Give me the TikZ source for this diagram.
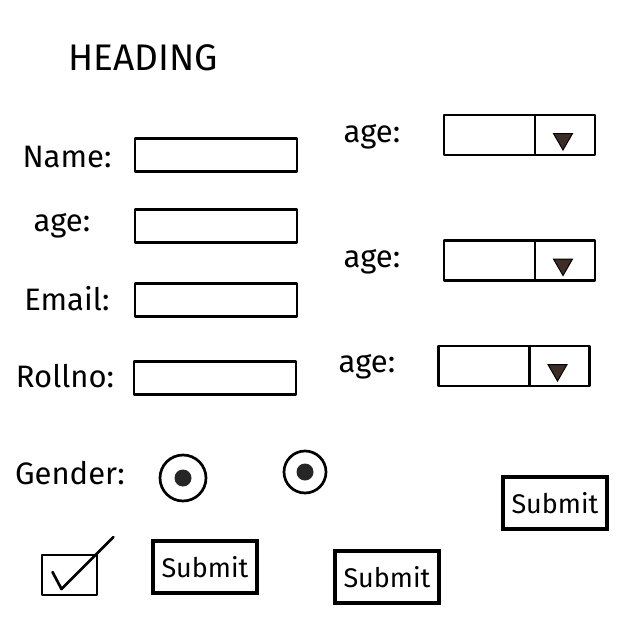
\documentclass[tikz,border=0pt]{standalone}
\usepackage{fontspec}
\setmainfont{Fira Sans}
\usetikzlibrary{calc,positioning,shapes.geometric}
\definecolor{arrowbrown}{HTML}{3E2C27}
\tikzset{
	sketch/.style={line width=2.7pt, line join=round},
	fieldlabel/.style={font=\fontsize{31}{33}\selectfont, inner sep=0pt},
	textbox/.style={draw, sketch, minimum width=162pt, minimum height=33pt, inner sep=0pt, outer sep=0pt},
	ddfield/.style={draw, sketch, minimum width=91pt, minimum height=40pt, inner sep=0pt, outer sep=0pt},
	ddbtn/.style={draw, sketch, minimum width=60pt, minimum height=40pt, inner sep=0pt, outer sep=0pt},
	ddarrow/.style={regular polygon, regular polygon sides=3, shape border rotate=180, fill=arrowbrown, draw=black, line width=1pt, minimum size=22pt, inner sep=0pt},
	radio/.style={circle, draw, line width=2.7pt, inner sep=0pt},
	radiodot/.style={circle, fill=black!85, minimum size=17pt, inner sep=0pt},
	submitbtn/.style={draw, line width=3.2pt, minimum width=104pt, minimum height=52pt, inner sep=0pt, font=\fontsize{27}{29}\selectfont},
	checkbox/.style={draw, sketch, minimum width=55pt, minimum height=40pt, inner sep=0pt}
}

\begin{document}
\begin{tikzpicture}[x=1pt, y=-1pt]
		%%%%% START %%%%%
		\useasboundingbox (0, 0) rectangle (640, 640);
		
		\node[font=\fontsize{37}{39}\selectfont, inner sep=0pt] (heading) at (143, 58) {HEADING};
		
		%% left column: text fields
		\node[fieldlabel] (namelbl) at (67, 157) {Name:};
		\node[textbox] (namebox) at (216, 155) {};
		
		\node[fieldlabel] (agelbl) at (62, 226) {age:};
		\node[textbox] (agebox) at (216, 226) {};
		
		\node[fieldlabel] (emaillbl) at (67, 299) {Email:};
		\node[textbox] (emailbox) at (216, 300) {};
		
		\node[fieldlabel] (rolllbl) at (65, 376) {Rollno:};
		\node[textbox] (rollbox) at (215, 378) {};
		
		%% right column: drop downs
		\node[fieldlabel] (ddlblA) at (372, 137) {age:};
		\node[ddfield] (ddA) at (489.5, 135) {};
		\node[ddbtn, right=0pt of ddA] (ddAbtn) {};
		\node[ddarrow] (ddAarr) at ($(ddAbtn.center)+(-2, 4)$) {};
		
		\node[fieldlabel] (ddlblB) at (372, 262) {age:};
		\node[ddfield] (ddB) at (489.5, 260.5) {};
		\node[ddbtn, right=0pt of ddB] (ddBbtn) {};
		\node[ddarrow] (ddBarr) at ($(ddBbtn.center)+(-2, 4)$) {};
		
		\node[fieldlabel] (ddlblC) at (367, 367) {age:};
		\node[ddfield] (ddC) at (484, 366) {};
		\node[ddbtn, right=0pt of ddC] (ddCbtn) {};
		\node[ddarrow] (ddCarr) at ($(ddCbtn.center)+(-2, 4)$) {};
		
		%% gender radios
		\node[fieldlabel] (genderlbl) at (70, 473) {Gender:};
		\node[radio, minimum size=46pt] (radioA) at (183, 478) {};
		\node[radiodot] (radioAdot) at (radioA.center) {};
		\node[radio, minimum size=42pt] (radioB) at (305, 472) {};
		\node[radiodot] (radioBdot) at (radioB.center) {};
		
		%% buttons
		\node[submitbtn] (submitA) at (555, 503) {Submit};
		\node[submitbtn] (submitB) at (205, 567) {Submit};
		\node[submitbtn] (submitC) at (387, 577) {Submit};
		
		%% check box
		\node[checkbox] (chk) at (69.5, 575) {};
		\draw[sketch, line cap=round] ($(chk.center)+(-17, -3)$) -- ($(chk.center)+(-8, 14)$) -- ($(chk.center)+(44, -38)$);
		
		%%%%% END %%%%%
	\end{tikzpicture}
\end{document}
